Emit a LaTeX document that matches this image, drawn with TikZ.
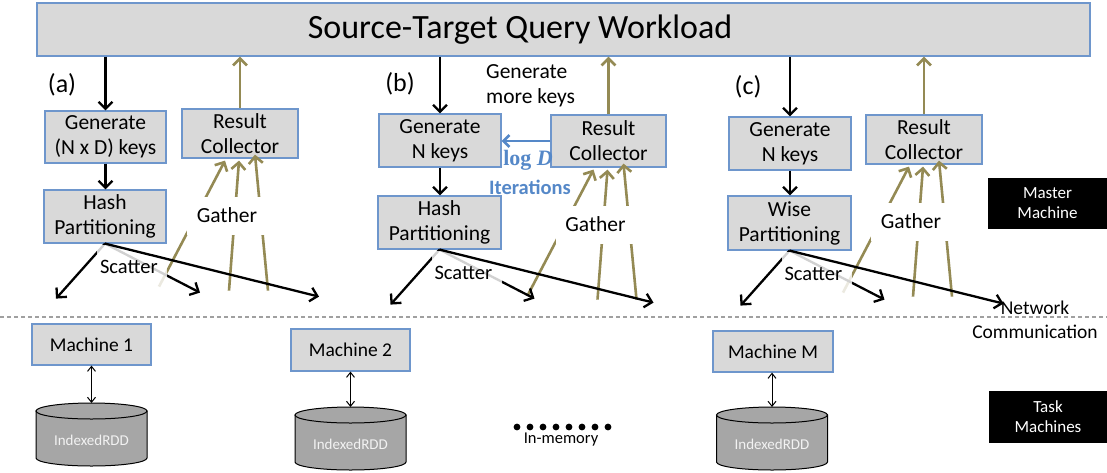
\documentclass[tikz,border=0pt]{standalone}
\usepackage{fontspec}
\setmainfont{Carlito}
\newfontfamily\mathlike{Liberation Serif}
\usetikzlibrary{arrows.meta,calc}

\definecolor{boxgray}{HTML}{D9D9D9}
\definecolor{boxblue}{HTML}{6E96CC}
\definecolor{gatherolive}{HTML}{948A54}
\definecolor{iterblue}{HTML}{5588C8}
\definecolor{diskgray}{HTML}{A6A6A6}
\definecolor{disktext}{HTML}{F2F2F2}
\definecolor{netgray}{HTML}{A0A0A0}

\newcommand\fs[2]{\fontsize{#1}{#2}\selectfont}

% gather and scatter traffic of one strategy:
% #1 partitioning node, #2 collector node, #3 suffix for names
\newcommand\flows[3]{%
  \coordinate (g1#3) at ($(#2.south)+(-81,128)$);
  \coordinate (g2#3) at ($(#2.south)+(-11,132)$);
  \coordinate (g3#3) at ($(#2.south)+(28,132)$);
  \draw[olivearrow] (g1#3) -- ($(#2.south)+(-15,2)$);
  \draw[olivearrow] (g2#3) -- ($(#2.south)+(-1,2)$);
  \draw[olivearrow] (g3#3) -- ($(#2.south)+(15,-4)$);
  \node[flowlabel] (gather#3) at ($(#2.south)+(-13,57)$) {Gather};
  \coordinate (s1#3) at ($(#1.south)+(-49,55)$);
  \coordinate (s2#3) at ($(#1.south)+(95,49)$);
  \coordinate (s3#3) at ($(#1.south)+(214,53)$);
  \draw[blackarrow] (#1.south) -- (s1#3);
  \draw[blackarrow] (#1.south) -- (s2#3);
  \node[scatterlabel] (scatter#3) at ($(#1.south)+(27,23)$) {Scatter};
  \draw[blackarrow] (#1.south) -- (s3#3);
}

% in-memory store drawn as a cylinder: #1 name, #2 centre x, #3 top y
\newcommand\disk[3]{%
  \draw[fill=diskgray, line width=1pt] (#2-55.5,#3+8) -- (#2-55.5,#3+55)
    arc[start angle=180, end angle=360, x radius=55.5pt, y radius=8pt]
    -- (#2+55.5,#3+8) -- cycle;
  \draw[fill=diskgray, line width=1pt] (#2,#3+8) ellipse [x radius=55.5pt, y radius=8pt];
  \coordinate (#1top) at (#2,#3);
  \node[disklabel] (#1) at (#2,#3+37) {IndexedRDD};
}

\begin{document}
\begin{tikzpicture}[x=1pt, y=-1pt,
  stagebox/.style={draw=boxblue, fill=boxgray, line width=1.2pt, align=center,
    inner sep=0pt, font=\fs{21.5}{25}},
  machinebox/.style={stagebox, font=\fs{19.5}{23}, minimum width=119pt, minimum height=41pt},
  tagbox/.style={fill=black, text=white, align=center, inner sep=0pt,
    font=\fs{17}{20}, minimum width=119pt, minimum height=51pt},
  blackarrow/.style={line width=2.3pt, -{Straight Barb[length=7pt,width=14pt]}},
  olivearrow/.style={draw=gatherolive, line width=2.6pt, -{Straight Barb[length=7pt,width=14pt]}},
  iterarrow/.style={draw=iterblue, line width=2.6pt, -{Straight Barb[length=6pt,width=12pt]}},
  diskarrow/.style={line width=1pt,
    {Straight Barb[length=5pt,width=8pt]}-{Straight Barb[length=5pt,width=8pt]}},
  flowlabel/.style={fill=white, inner sep=0pt, font=\fs{21.5}{25},
    minimum width=80pt, minimum height=38pt},
  scatterlabel/.style={fill=white, fill opacity=0.82, text opacity=1, inner xsep=3pt,
    inner ysep=0pt, text width=64pt, align=left, minimum height=44pt, font=\fs{20.5}{24}},
  tagtext/.style={font=\fs{26}{28}},
  disklabel/.style={text=disktext, font=\fs{15}{17}},
]
\useasboundingbox (0,0) rectangle (1107,472);

% query workload on top
\node[stagebox, minimum width=1053pt, minimum height=53pt, font=\fs{34}{36}]
  (workload) at (563.5,29.5) {Source-Target Query Workload\hspace*{87pt}};

% ---- strategy (a)
\node[tagtext] (tagA) at (62,85) {(a)};
\node[stagebox, minimum width=121pt, minimum height=52pt] (genA) at (105.5,137) {Generate\\(N x D) keys};
\node[stagebox, minimum width=122pt, minimum height=53pt] (hashA) at (105,216.5) {Hash\\Partitioning};
\node[stagebox, minimum width=116pt, minimum height=49pt] (resA) at (240,133.5) {Result\\Collector};
\draw[blackarrow] (genA.north |- workload.south) -- (genA.north);
\draw[blackarrow] (genA.south) -- (genA.south |- hashA.north);
\draw[olivearrow] (resA.north) -- (resA.north |- workload.south);
\flows{hashA}{resA}{A}

% ---- strategy (b)
\node[tagtext] (tagB) at (400,84) {(b)};
\node[stagebox, minimum width=122pt, minimum height=53pt] (genB) at (440,140.5) {Generate\\N keys};
\node[stagebox, minimum width=123pt, minimum height=53pt] (hashB) at (439.5,222.5) {Hash\\Partitioning};
\node[stagebox, minimum width=115pt, minimum height=52pt] (resB) at (608.5,141) {Result\\Collector};
\node[font=\fs{21.5}{25}, align=left, anchor=west, inner sep=0pt] (morekeys) at (486,86) {Generate\\more keys};
\draw[blackarrow] (genB.north |- workload.south) -- (genB.north);
\draw[blackarrow] (genB.south) -- (genB.south |- hashB.north);
\draw[olivearrow] (resB.north) -- (resB.north |- workload.south);
\draw[iterarrow] (resB.west) -- (resB.west -| genB.east);
\node[text=iterblue, font=\mathlike\bfseries\fs{22}{24}, inner sep=0pt] (logd) at (528,160) {log \textit{D}};
\node[text=iterblue, font=\bfseries\fs{20.5}{24}, inner sep=0pt] (iters) at (530,187) {Iterations};
\flows{hashB}{resB}{B}

% ---- strategy (c)
\node[tagtext] (tagC) at (748,87) {(c)};
\node[stagebox, minimum width=122pt, minimum height=53pt] (genC) at (790,143.5) {Generate\\N keys};
\node[stagebox, minimum width=123pt, minimum height=54pt] (wiseC) at (789.5,223) {Wise\\Partitioning};
\node[stagebox, minimum width=116pt, minimum height=49pt] (resC) at (924,139.5) {Result\\Collector};
\draw[blackarrow] (genC.north |- workload.south) -- (genC.north);
\draw[blackarrow] (genC.south) -- (genC.south |- wiseC.north);
\draw[olivearrow] (resC.north) -- (resC.north |- workload.south);
\flows{wiseC}{resC}{C}

% master / task tags
\node[tagbox] (master) at (1047.5,203.5) {Master\\Machine};
\node[tagbox, minimum height=52pt] (task) at (1048,417) {Task\\Machines};

% network boundary
\coordinate (netL) at (0,317);
\coordinate (netR) at (1107,317);
\draw[netgray, line width=1.3pt, dash pattern=on 4pt off 3pt] (netL) -- (netR);
\node[font=\fs{19.5}{24}, align=center, inner sep=0pt] (netcomm) at (1035,320) {Network\\Communication};

% task machines with their stores
\node[machinebox] (m1) at (91.5,344.5) {Machine 1};
\node[machinebox, minimum height=42pt] (m2) at (350.5,350) {Machine 2};
\node[machinebox, minimum width=120pt] (mM) at (773,351.5) {Machine M};
\disk{disk1}{91.5}{403}
\disk{disk2}{350.5}{407}
\disk{diskM}{772}{407}
\draw[diskarrow] (m1.south) -- (disk1top);
\draw[diskarrow] (m2.south) -- (disk2top);
\draw[diskarrow] (mM.south -| diskMtop) -- (diskMtop);

% ellipsis between machines
\foreach \i in {0,...,7} \fill (517+13*\i,427) circle[radius=3.4pt];
\node[font=\fs{16.5}{18}] (inmem) at (561,440) {In-memory};
\end{tikzpicture}
\end{document}
